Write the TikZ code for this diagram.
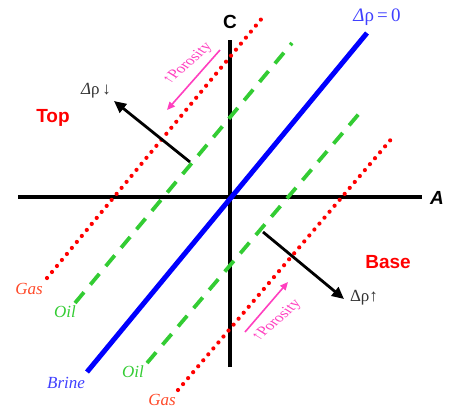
\documentclass[tikz,border=0pt]{standalone}
\usepackage{fontspec}
\setmainfont{Liberation Serif}
\newfontfamily\arialfont{Liberation Sans}
\usetikzlibrary{arrows.meta}
\definecolor{cRed}  {HTML}{FF0000}
\definecolor{cGas}  {HTML}{FF4A2A}
\definecolor{cOil}  {HTML}{33CC33}
\definecolor{cBrine}{HTML}{0000FF}
\definecolor{cPink} {HTML}{FF3FBF}
\tikzset{
  sax/.style ={line width=3.5pt,black},
  sbr/.style ={line width=5pt,cBrine},
  sgas/.style={line width=4.2pt,cRed,line cap=round,dash pattern=on 0pt off 7.8pt},
  soil/.style={line width=3.8pt,cOil,dash pattern=on 14pt off 10pt},
  sdr/.style ={line width=2.8pt,-{Triangle[length=12pt,width=11pt]}},
  spor/.style={line width=1.6pt,cPink,-{Triangle[length=8pt,width=7pt]}},
  sbig/.style={font=\arialfont\bfseries\fontsize{19}{19}\selectfont},
  sit/.style ={font=\itshape\fontsize{17}{17}\selectfont},
  slbl/.style={font=\fontsize{17}{17}\selectfont},
  sptxt/.style={font=\fontsize{13}{13}\selectfont,cPink,xscale=1.35,rotate=50,inner sep=0pt},
}
\begin{document}
\begin{tikzpicture}[x=1pt,y=-1pt]
  \useasboundingbox (0,0) rectangle (449,408);
  % axes
  \coordinate (aw) at (18,197);  \coordinate (ae) at (422,197);
  \coordinate (cn) at (230,40);  \coordinate (cs) at (230,367);
  \draw[sax] (aw)--(ae);
  \draw[sax] (cs)--(cn);
  \node[sbig] (A) at (437,198) {\itshape A};
  \node[sbig] (C) at (230,22) {C};
  % fluid lines
  \coordinate (b1) at (87,372);  \coordinate (b2) at (367,33);
  \coordinate (g1) at (47,278);  \coordinate (g2) at (263,17);
  \coordinate (o1) at (75,303);  \coordinate (o2) at (292,43);
  \coordinate (o3) at (147,363); \coordinate (o4) at (363,109);
  \coordinate (g3) at (178,390); \coordinate (g4) at (393,137);
  \draw[sgas] (g1)--(g2);
  \draw[sgas] (g3)--(g4);
  \draw[soil] (o1)--(o2);
  \draw[soil] (o3)--(o4);
  \draw[sbr] (b1)--(b2);
  \node[sit,cGas] (gasU) at (29,289) {Gas};
  \node[sit,cGas] (gasL) at (162,400) {Gas};
  \node[sit,cOil] (oilU) at (65,312) {Oil};
  \node[sit,cOil] (oilL) at (133,372) {Oil};
  \node[sit,cBrine!75] (brine) at (66,383) {Brine};
  \node[slbl,font=\fontsize{19}{19}\selectfont,cBrine!75] (zero) at (377,17) {\textit{Δ}ρ\,=\,0};
  % top / base
  \node[sbig,cRed] (top) at (53,118) {Top};
  \node[sbig,cRed] (base) at (388,262) {Base};
  \coordinate (dt1) at (190,162); \coordinate (dt2) at (114,101);
  \coordinate (db1) at (263,232); \coordinate (db2) at (344,299);
  \draw[sdr] (dt1)--(dt2);
  \draw[sdr] (db1)--(db2);
  \node[slbl,black!80] (dlo) at (96,91) {\textit{Δ}ρ\,↓};
  \node[slbl,black!80] (dhi) at (364,298) {Δρ↑};
  % porosity
  \coordinate (pu1) at (220,50);  \coordinate (pu2) at (167,110);
  \coordinate (pl1) at (245,332); \coordinate (pl2) at (288,282);
  \draw[spor] (pu1)--(pu2);
  \draw[spor] (pl1)--(pl2);
  \node[sptxt] (porU) at (188,64) {↑Porosity};
  \node[sptxt] (porL) at (277,321) {↑Porosity};
\end{tikzpicture}
\end{document}
